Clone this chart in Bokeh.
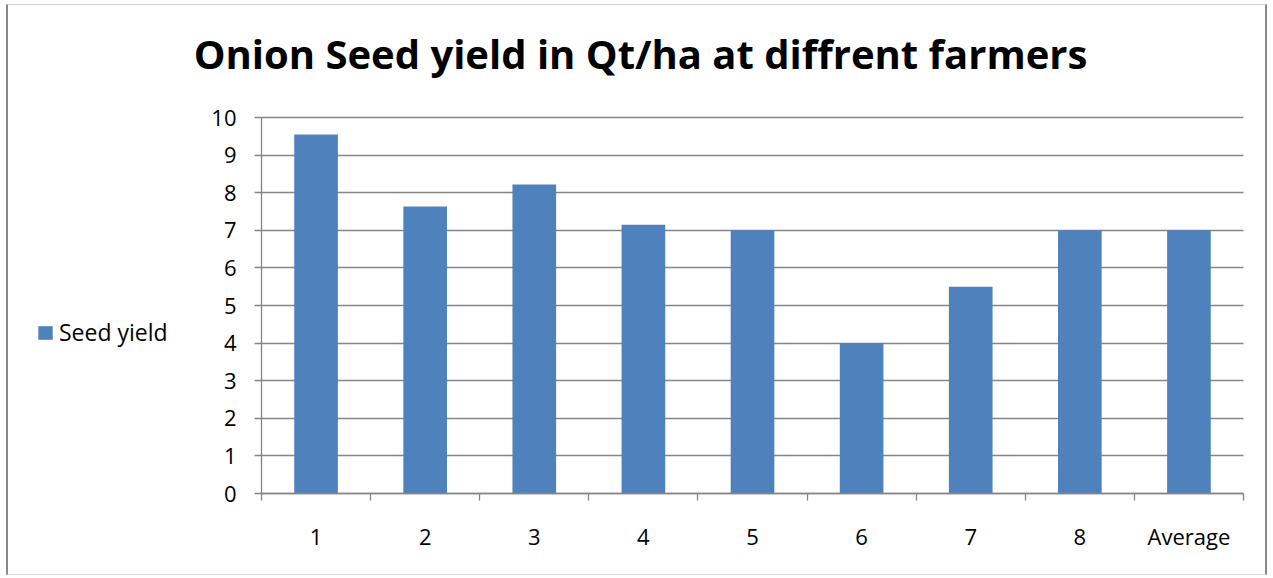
from bokeh.plotting import figure
from bokeh.models import FixedTicker, Label, Legend, LegendItem, Range1d, ColumnDataSource
from bokeh.embed import file_html
from bokeh.resources import INLINE

# ---- data ----
categories = ["1", "2", "3", "4", "5", "6", "7", "8", "Average"]
seed_yield = [9.55, 7.63, 8.22, 7.15, 7.0, 4.0, 5.5, 7.0, 7.0]
y_ticks = [0, 1, 2, 3, 4, 5, 6, 7, 8, 9, 10]
title_text = "Onion Seed yield in Qt/ha at diffrent farmers"
series_name = "Seed yield"

n = len(categories)
y_max = y_ticks[-1]
positions = [i + 0.5 for i in range(n)]
boundaries = list(range(n + 1))
source = ColumnDataSource(data=dict(x=positions, top=seed_yield, cat=categories))

# ---- layout (pixels) ----
W, H = 1261, 571                 # canvas size
plot_left, plot_right = 253, 1235  # plot area inside canvas
plot_top, plot_bottom = 112, 488
kx = (plot_right - plot_left) / n
ky = (plot_bottom - plot_top) / y_max
x_start = -plot_left / kx
x_end = n + (W - plot_right) / kx
y_start = -(H - plot_bottom) / ky
y_end = y_max + plot_top / ky

GRID = "#868686"
BAR = "#4F81BD"
FONT = "Open Sans"

p = figure(width=W, height=H,
           x_range=Range1d(x_start, x_end), y_range=Range1d(y_start, y_end),
           output_backend="svg", toolbar_location=None,
           min_border=0, min_border_left=0, min_border_right=0,
           min_border_top=0, min_border_bottom=0)
p.title.visible = False
p.outline_line_color = None
p.background_fill_color = "white"
p.border_fill_color = "white"
p.styles = {"margin": "4px 0px 0px 6px",
            "border-left": "2px solid #898989", "border-right": "2px solid #898989",
            "border-top": "1px solid #d6d6d6", "border-bottom": "1px solid #d6d6d6"}

r = p.vbar(x="x", top="top", width=0.4, source=source,
           fill_color=BAR, line_color=None)

# grid lines limited to the plot area
p.xgrid.visible = False
p.ygrid.ticker = FixedTicker(ticks=y_ticks)
p.ygrid.grid_line_color = GRID
p.ygrid.grid_line_width = 1.3
try:
    p.ygrid.cross_bounds = (0, n)
except Exception:
    p.ygrid.visible = False
    p.segment(x0=[0] * len(y_ticks[1:]), x1=[n] * len(y_ticks[1:]),
              y0=y_ticks[1:], y1=y_ticks[1:], line_color=GRID, line_width=1.3)

# y axis
ya = p.yaxis[0]
ya.fixed_location = 0
ya.bounds = (0, y_max)
ya.ticker = FixedTicker(ticks=y_ticks)
ya.axis_line_color = GRID
ya.axis_line_width = 1.3
ya.major_tick_line_color = GRID
ya.major_tick_line_width = 1.3
ya.major_tick_out = 7
ya.major_tick_in = 0
ya.minor_tick_line_color = None
ya.major_label_standoff = 18
ya.major_label_text_font = FONT
ya.major_label_text_font_size = "22px"
ya.major_label_text_color = "black"

# x axis: labels at centres, tick marks at category boundaries
xa = p.xaxis[0]
xa.fixed_location = 0
xa.bounds = (0, n)
xa.ticker = FixedTicker(ticks=positions, minor_ticks=boundaries)
xa.major_label_overrides = {pos: cat for pos, cat in zip(positions, categories)}
xa.axis_line_color = GRID
xa.axis_line_width = 1.3
xa.major_tick_line_color = None
xa.major_tick_out = 0
xa.major_tick_in = 0
xa.minor_tick_line_color = GRID
xa.minor_tick_line_width = 1.3
xa.minor_tick_out = 7
xa.minor_tick_in = 0
xa.major_label_standoff = 20
xa.major_label_text_font = FONT
xa.major_label_text_font_size = "22px"
xa.major_label_text_color = "black"

# title
title = Label(x=632, y=523, x_units="screen", y_units="screen", text=title_text,
              text_font=FONT, text_font_style="bold", text_font_size="40px",
              text_align="center", text_baseline="alphabetic", text_color="black")
p.add_layout(title)

# legend
legend = Legend(items=[LegendItem(label=series_name, renderers=[r])],
                location=(28, 228), padding=0, margin=0, spacing=0,
                glyph_width=18, glyph_height=17, label_standoff=5,
                label_text_font=FONT, label_text_font_size="23px",
                label_text_color="black",
                label_height=23, border_line_color=None, background_fill_alpha=0)
p.add_layout(legend)

open("out.html", "w").write(file_html(p, INLINE))
